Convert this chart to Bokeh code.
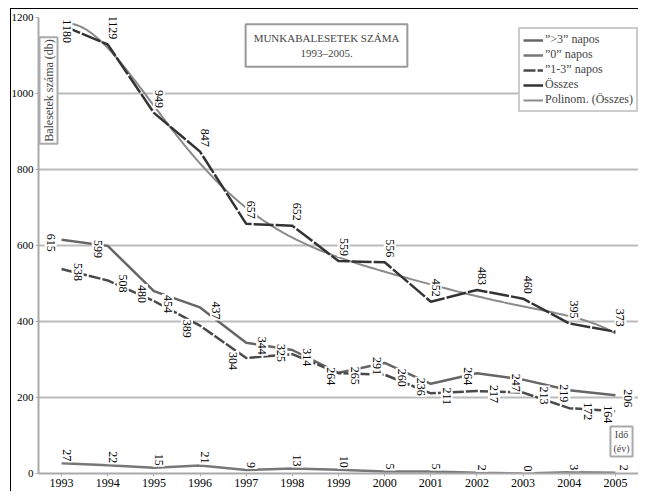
import numpy as np
from math import pi
from bokeh.plotting import figure
from bokeh.models import (ColumnDataSource, Label, Legend, LegendItem,
                          Range1d, FixedTicker)
from bokeh.core.properties import value
from bokeh.embed import file_html
from bokeh.resources import INLINE

# ---- data ----
years = [1993, 1994, 1995, 1996, 1997, 1998, 1999, 2000, 2001, 2002, 2003, 2004, 2005]
over3 = [615, 599, 480, 437, 344, 325, 265, 291, 236, 264, 247, 219, 206]
one_to_three = [538, 508, 454, 389, 304, 314, 264, 260, 211, 217, 213, 172, 164]
zero_days = [27, 22, 15, 21, 9, 13, 10, 5, 5, 2, 0, 3, 2]
total = [1180, 1129, 949, 847, 657, 652, 559, 556, 452, 483, 460, 395, 373]
y_ticks = [0, 200, 400, 600, 800, 1000, 1200]

# ---- layout / label placement (pixels) ----
W, H = 638, 491
BL, BR, BT, BB = 38, 0, 17, 18
X0, X1, Y0, Y1 = 1992.5, 2005.5, 0, 1200
PXX = (W - BL - BR) / (X1 - X0)
PXY = (H - BT - BB) / (Y1 - Y0)
CHAR_W = 6.0

over3_dx = [-11, -10, -12, 16, 16, -11, 16, -8, -10, -9, -7, -5, 13]
one3_dx = [16, 15, 14, -13, -13, 15, -8, 17, 16, 17, 21, 19, -7]

FONT = "Liberation Serif"


def label_frame(xv, yv, dxs, dys):
    texts = [str(v) for v in yv]
    lens = [len(t) * CHAR_W for t in texts]
    cx = [x + dx / PXX for x, dx in zip(xv, dxs)]
    cy = [y + dy / PXY for y, dy in zip(yv, dys)]
    return dict(cx=cx, cy=cy, t=texts, h=[l + 2 for l in lens])


def above(yv, gap, first=None):
    out = [gap + len(str(v)) * CHAR_W / 2 for v in yv]
    if first is not None:
        out[0] = first
    return out


lab_over3 = label_frame(years, over3, over3_dx, [-3] * len(years))
lab_one3 = label_frame(years, one_to_three, one3_dx, [-3] * len(years))
lab_total = label_frame(years, total, [5] * len(years), above(total, 5, first=-6))
lab_zero = label_frame(years, zero_days, [5] * 12 + [9], above(zero_days, 2))

labels = {k: [] for k in ("cx", "cy", "t", "h")}
for d in (lab_over3, lab_one3, lab_total, lab_zero):
    for k in labels:
        labels[k] += d[k]
lsrc = ColumnDataSource(labels)

src = ColumnDataSource(dict(x=years, over3=over3, one3=one_to_three,
                            zero=zero_days, total=total))

# polynomial trendline of the total
xs = np.array(years, dtype=float)
coef = np.polyfit(xs - 1999, np.array(total, dtype=float), 6)
xfine = np.linspace(1993, 2005, 150)
yfine = np.polyval(coef, xfine - 1999)
psrc = ColumnDataSource(dict(x=xfine, y=yfine))

p = figure(width=W, height=H, output_backend="svg", toolbar_location=None,
           x_range=Range1d(X0, X1), y_range=Range1d(Y0, Y1),
           min_border_left=BL, min_border_right=BR, min_border_top=BT, min_border_bottom=BB)
p.styles = {"background": "linear-gradient(#000,#000) 10px 8px / 1px calc(100% - 8px) no-repeat, "
                          "linear-gradient(#000,#000) 10px 8px / calc(100% - 10px) 1px no-repeat, white"}
p.border_fill_alpha = 0
p.outline_line_color = None
p.background_fill_color = "white"

p.xgrid.grid_line_color = None
p.ygrid.grid_line_color = "#bbbbbb"
p.ygrid.grid_line_width = 2
p.ygrid.ticker = FixedTicker(ticks=y_ticks)

p.xaxis.ticker = FixedTicker(ticks=years)
p.yaxis.ticker = FixedTicker(ticks=y_ticks)
for ax in (p.xaxis[0], p.yaxis[0]):
    ax.axis_line_color = "#aaaaaa"
    ax.axis_line_width = 2
    ax.major_tick_line_color = "#aaaaaa"
    ax.major_tick_out = 3
    ax.major_tick_in = 0
    ax.minor_tick_line_color = None
    ax.major_label_text_font = FONT
    ax.major_label_text_color = "black"
p.xaxis.major_label_text_font_size = "12px"
p.yaxis.major_label_text_font_size = "11px"
p.xaxis.major_label_standoff = 2
p.yaxis.major_label_standoff = 2

r_over3 = p.line("x", "over3", source=src, line_color="#666666", line_width=2.5)
r_zero = p.line("x", "zero", source=src, line_color="#777777", line_width=2.5)
r_one3 = p.line("x", "one3", source=src, line_color="#4a4a4a", line_width=2.5, line_dash="12 2")
r_poly = p.line("x", "y", source=psrc, line_color="#8a8a8a", line_width=2)
r_total = p.line("x", "total", source=src, line_color="#333333", line_width=2.5, line_dash="20 2")

# white boxes behind value labels, then the labels
p.rect(x="cx", y="cy", width=12, height="h", width_units="screen", height_units="screen",
       source=lsrc, fill_color="white", line_color=None)
p.text(x="cx", y="cy", text="t", source=lsrc, angle=-pi / 2, text_font=value(FONT),
       text_font_size="12px", text_color="black", text_align="center",
       text_baseline="middle")

# title box
p.add_layout(Label(x=X0 + 288 / PXX, y=Y1 - 28 / PXY, text="MUNKABALESETEK SZÁMA\n1993–2005.",
                   text_font=FONT, text_font_size="11px", text_align="center",
                   text_baseline="middle", background_fill_color="white",
                   border_line_color="#999999", border_line_width=2, padding=8))
# y axis title box
p.add_layout(Label(x=X0 + 10 / PXX, y=Y1 - 73 / PXY, text="Balesetek száma (db)", angle=pi / 2,
                   text_font=FONT, text_font_size="12px", text_align="center",
                   text_baseline="middle", background_fill_color="white",
                   border_line_color="#aaaaaa", border_line_width=2, padding=2))
# x axis title box
p.add_layout(Label(x=X1 - 17 / PXX, y=Y0 + 32 / PXY, text="Idő\n(év)",
                   text_font=FONT, text_font_size="10px", text_align="center",
                   text_baseline="middle", background_fill_color="white",
                   border_line_color="#aaaaaa", border_line_width=2, padding=3))

legend = Legend(items=[
    LegendItem(label="”>3” napos", renderers=[r_over3]),
    LegendItem(label="”0” napos", renderers=[r_zero]),
    LegendItem(label="”1-3” napos", renderers=[r_one3]),
    LegendItem(label="Összes", renderers=[r_total]),
    LegendItem(label="Polinom. (Összes)", renderers=[r_poly]),
], location=(480, 361))
legend.label_text_font = FONT
legend.label_text_font_size = "12px"
legend.glyph_width = 20
legend.glyph_height = 12
legend.label_height = 13
legend.spacing = 0
legend.padding = 3
legend.margin = 0
legend.label_standoff = 2
legend.border_line_color = "#999999"
legend.border_line_width = 2
legend.background_fill_alpha = 1
p.add_layout(legend)

open("out.html", "w").write(file_html(p, INLINE))
